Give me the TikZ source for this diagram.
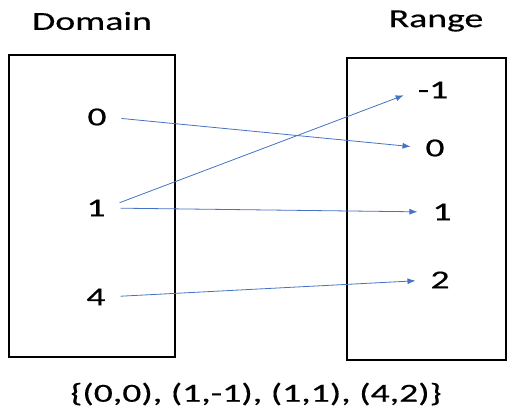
\documentclass[tikz,border=0pt]{standalone}
\usepackage{fontspec}
\usepackage{tikz}
\usetikzlibrary{arrows.meta}
\newfontfamily\diagfont[FakeStretch=1.45, FakeBold=0.4]{Carlito}
\definecolor{arrowblue}{HTML}{4472C4}
\tikzstyle{box} = [draw, line width=1.3pt]
\tikzstyle{val} = [inner sep=0pt, outer sep=0pt, font=\diagfont\fontsize{26}{30}\selectfont]
\tikzstyle{line} = [draw=arrowblue, line width=0.8pt, -{Latex[length=8pt,width=6pt]}, shorten <=15pt, shorten >=15pt]

\begin{document}
\begin{tikzpicture}[x=1pt, y=-1pt]
		\useasboundingbox (0,0) rectangle (509,416);
		\draw[box] (9,55) rectangle (175,357);
		\draw[box] (347,58) rectangle (506,360);
		\node[val] (dom) at (92,21) {Domain};
		\node[val] (ran) at (436,21) {Range};
		\node[val] (d0) at (97,117) {0};
		\node[val] (d1) at (96,208) {1};
		\node[val] (d4) at (96,297) {4};
		\node[val] (rm1) at (433,90) {-1};
		\node[val] (r0) at (435,148) {0};
		\node[val] (r1) at (442,212) {1};
		\node[val] (r2) at (440,280) {2};
		\draw[line] (d0.east) -- (r0.west);
		\draw[line] (d1.east) -- (rm1.west);
		\draw[line] (d1.east) -- (r1.west);
		\draw[line] (d4.east) -- (r2.west);
		\node[val] (pairs) at (256,394) {\{(0,0), (1,-1), (1,1), (4,2)\}};
	\end{tikzpicture}
\end{document}
